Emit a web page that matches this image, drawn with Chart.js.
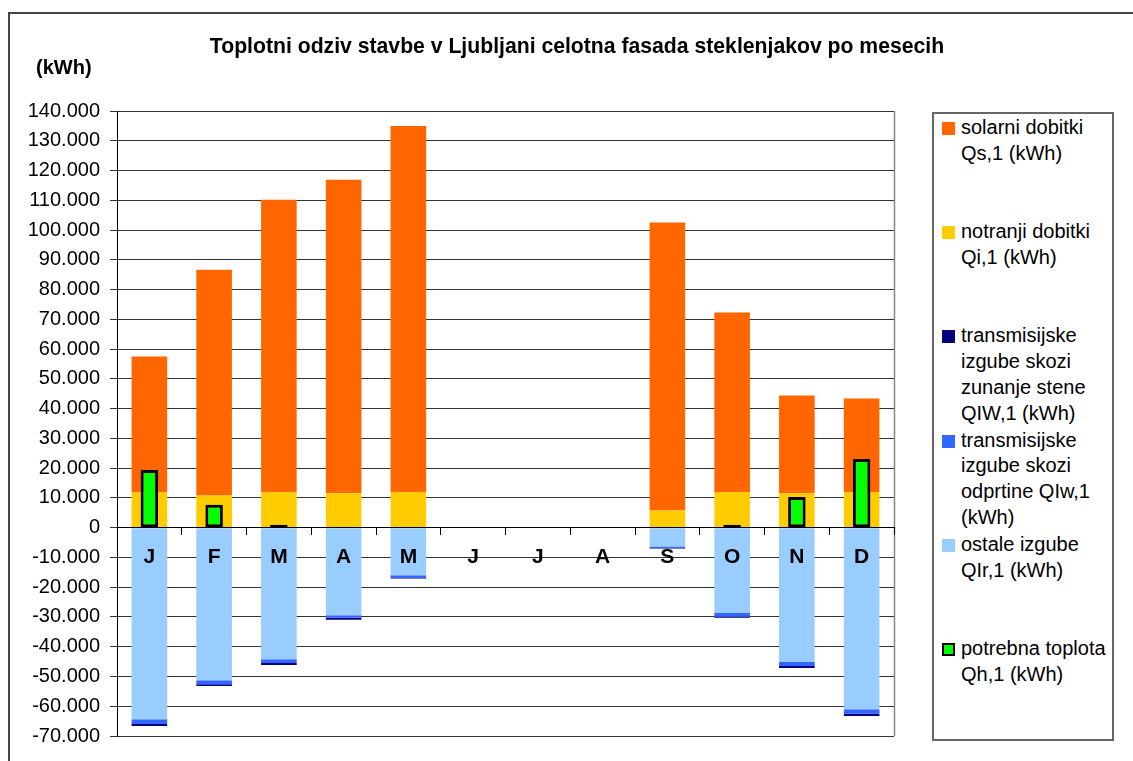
<!DOCTYPE html>
<html>
<head>
<meta charset="utf-8">
<title>Toplotni odziv stavbe</title>
<script src="https://cdn.jsdelivr.net/npm/chart.js@4.4.1/dist/chart.umd.min.js"></script>
<style>
  html, body { margin: 0; padding: 0; background: #fff; }
  #wrap { position: relative; width: 1133px; height: 761px; overflow: hidden;
          font-family: "Liberation Sans", Arial, sans-serif; color: #000; }
  #frame { position: absolute; left: 8px; top: 12px; width: 1200px; height: 800px;
           border-left: 2px solid #444; border-top: 2px solid #444; }
  #chart { position: absolute; left: 0; top: 0; }
  #title { position: absolute; left: 0; width: 1154px; top: 34px; line-height: 24px;
           text-align: center; font-weight: bold; font-size: 21.2px; white-space: nowrap; }
  #unit { position: absolute; left: 36px; top: 55px; line-height: 24px;
          font-weight: bold; font-size: 20px; }
  #legend { position: absolute; left: 932px; top: 112px; width: 178px; height: 625px;
            border: 2px solid #666; background: #fff; }
  .item { position: absolute; left: 0; width: 178px; }
  .sw { position: absolute; left: 8px; top: 7px; width: 13px; height: 13px; box-sizing: border-box; }
  .txt { position: absolute; left: 27px; top: 0; font-size: 20px; line-height: 25.8px; white-space: nowrap; }
</style>
</head>
<body>
<div id="wrap">
  <div id="frame"></div>
  <canvas id="chart" width="1133" height="761"></canvas>
  <div id="title">Toplotni odziv stavbe v Ljubljani celotna fasada steklenjakov po mesecih</div>
  <div id="unit">(kWh)</div>
  <div id="legend"></div>
</div>
<script>
// Months (January .. December)
const months = ['J', 'F', 'M', 'A', 'M', 'J', 'J', 'A', 'S', 'O', 'N', 'D'];

// Monthly energy balance in kWh (no heating-season values for June-August)
const solarGains      = [45500, 75900, 98200, 105300, 123000, null, null, null, 96700, 60300, 32800, 31400];
const internalGains   = [12000, 10800, 12000, 11600, 12000, null, null, null, 5800, 12000, 11600, 12000];
const wallLosses      = [-670, -570, -670, -670, -150, null, null, null, -100, -340, -670, -780];
const openingLosses   = [-1580, -1340, -1240, -900, -900, null, null, null, -560, -1200, -1350, -1460];
const otherLosses     = [-64400, -51300, -44200, -29400, -16000, null, null, null, -6300, -28700, -45100, -61000];
const heatingDemand   = [19400, 7700, 1000, null, null, null, null, null, null, 1000, 10300, 23100];

// Axis range and tick spacing (kWh)
const yMin = -70000;
const yMax = 140000;
const yStep = 10000;

// Series names, split into the lines shown in the legend
const nameSolar    = ['solarni dobitki', 'Qs,1 (kWh)'];
const nameInternal = ['notranji dobitki', 'Qi,1 (kWh)'];
const nameWall     = ['transmisijske', 'izgube skozi', 'zunanje stene', 'QIW,1 (kWh)'];
const nameOpening  = ['transmisijske', 'izgube skozi', 'odprtine QIw,1', '(kWh)'];
const nameOther    = ['ostale izgube', 'QIr,1 (kWh)'];
const nameHeating  = ['potrebna toplota', 'Qh,1 (kWh)'];

const FONT = '"Liberation Sans", Arial, sans-serif';

function thousands(v) {
  const s = Math.abs(v).toString().replace(/\B(?=(\d{3})+(?!\d))/g, '.');
  return (v < 0 ? '-' : '') + s;
}

const barStyle = { barPercentage: 0.55, categoryPercentage: 1, borderWidth: 0, stack: 'balance' };

const datasets = [
  { label: nameHeating.join(' '), data: heatingDemand, backgroundColor: '#00FF00',
    borderColor: '#000', borderWidth: 3, borderSkipped: false, grouped: false,
    barPercentage: 0.27, categoryPercentage: 1, stack: 'heating' },
  Object.assign({ label: nameInternal.join(' '), data: internalGains, backgroundColor: '#FFCC00' }, barStyle),
  Object.assign({ label: nameSolar.join(' '), data: solarGains, backgroundColor: '#FF6600' }, barStyle),
  Object.assign({ label: nameOther.join(' '), data: otherLosses, backgroundColor: '#99CCFF' }, barStyle),
  Object.assign({ label: nameOpening.join(' '), data: openingLosses, backgroundColor: '#3366FF' }, barStyle),
  Object.assign({ label: nameWall.join(' '), data: wallLosses, backgroundColor: '#000080' }, barStyle)
];

// Thin grey edge on the right side of the plot area
const plotEdge = {
  id: 'plotEdge',
  beforeDatasetsDraw(chart) {
    const a = chart.chartArea, ctx = chart.ctx;
    ctx.save();
    ctx.strokeStyle = '#888';
    ctx.lineWidth = 1.5;
    ctx.beginPath();
    ctx.moveTo(a.right + 0.5, a.top);
    ctx.lineTo(a.right + 0.5, a.bottom);
    ctx.stroke();
    ctx.restore();
  }
};

new Chart(document.getElementById('chart'), {
  type: 'bar',
  data: { labels: months, datasets: datasets },
  plugins: [plotEdge],
  options: {
    responsive: false,
    animation: false,
    devicePixelRatio: 1,
    layout: { padding: { left: 0, right: 239, top: 111, bottom: 25 } },
    plugins: { legend: { display: false }, title: { display: false }, tooltip: { enabled: false } },
    scales: {
      x: {
        stacked: true,
        position: { y: 0 },
        offset: true,
        afterFit(scale) { scale.height = 0; },
        grid: { display: true, drawOnChartArea: false, drawTicks: true, tickLength: 7,
                color: '#000', lineWidth: 1, offset: true, z: 1 },
        border: { display: true, color: '#000', width: 1, z: 1 },
        ticks: { color: '#000', padding: 10, maxRotation: 0, autoSkip: false, z: 1,
                 font: { family: FONT, size: 21, weight: 'bold' } }
      },
      y: {
        stacked: true,
        min: yMin,
        max: yMax,
        afterFit(scale) { scale.width = 117; },
        grid: { color: '#333', lineWidth: 1, drawTicks: true, tickLength: 7 },
        border: { display: true, color: '#000', width: 1 },
        ticks: { stepSize: yStep, color: '#000', padding: 10,
                 font: { family: FONT, size: 20 },
                 callback: (v) => thousands(v) }
      }
    }
  }
});

// Legend panel built from the series names and colours
const legendOrder = [
  [nameSolar, '#FF6600', false],
  [nameInternal, '#FFCC00', false],
  [nameWall, '#000080', false],
  [nameOpening, '#3366FF', false],
  [nameOther, '#99CCFF', false],
  [nameHeating, '#00FF00', true]
];
const legend = document.getElementById('legend');
legendOrder.forEach(([lines, colour, outlined], i) => {
  const item = document.createElement('div');
  item.className = 'item';
  item.style.top = (1 + i * 104.2) + 'px';
  const sw = document.createElement('div');
  sw.className = 'sw';
  sw.style.background = colour;
  if (outlined) sw.style.border = '2px solid #000';
  const txt = document.createElement('div');
  txt.className = 'txt';
  txt.innerHTML = lines.join('<br>');
  item.appendChild(sw);
  item.appendChild(txt);
  legend.appendChild(item);
});
</script>
</body>
</html>
